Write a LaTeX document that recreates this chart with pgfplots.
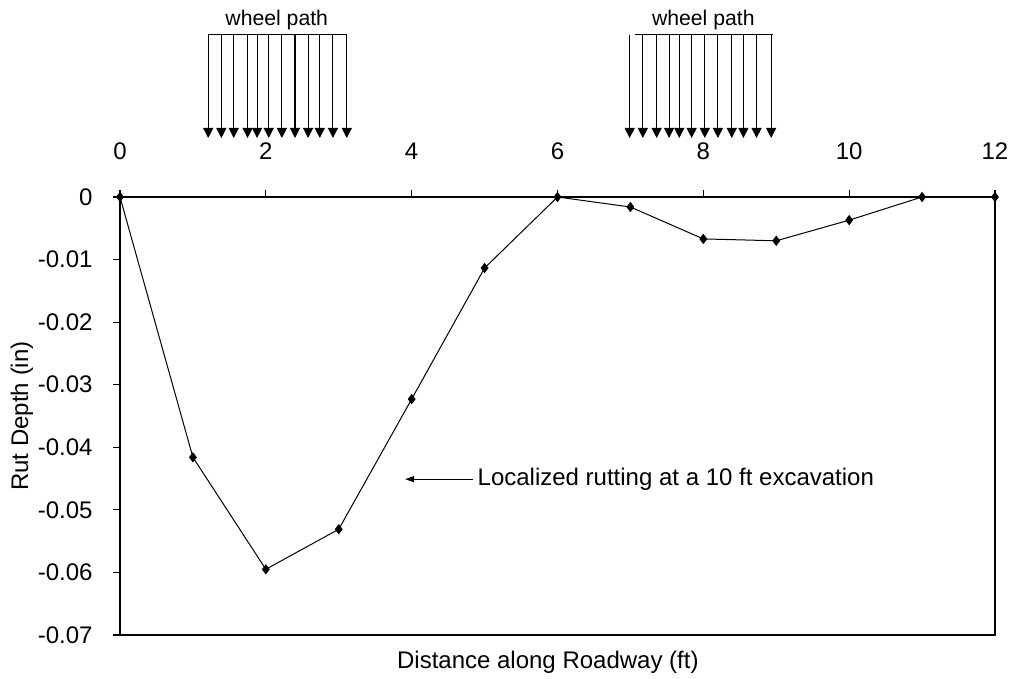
\documentclass[border=0pt]{standalone}
\usepackage{fontspec}
\setmainfont{Liberation Sans}
\usepackage{pgfplots}
\pgfplotsset{compat=1.18}
\usetikzlibrary{arrows.meta}
\begin{document}
\begin{tikzpicture}
\begin{axis}[
  at={(0,0)}, anchor=south west,
  scale only axis, width=437.5pt, height=219pt,
  xmin=0, xmax=12, ymin=-0.07, ymax=0,
  clip=false,
  axis line style={line width=0.6pt},
  tick style={line width=0.6pt, black},
  tick align=outside,
  major tick length=3.5pt,
  xtick={0,2,4,6,8,10,12},
  xtick pos=upper, xticklabel pos=upper,
  ytick={-0.07,-0.06,-0.05,-0.04,-0.03,-0.02,-0.01,0},
  yticklabels={-0.07,-0.06,-0.05,-0.04,-0.03,-0.02,-0.01,0},
  scaled y ticks=false,
  ytick pos=left,
  /pgf/number format/assume math mode=true,
  tick label style={font=\fontsize{12}{14}\selectfont, inner sep=0pt},
  xticklabel style={anchor=center, yshift=19.5pt},
  yticklabel style={anchor=east, xshift=-10pt},
  xlabel={Distance along Roadway (ft)},
  ylabel={Rut Depth (in)},
  label style={font=\fontsize{12}{14}\selectfont, inner sep=0pt},
  xlabel style={at={(axis description cs:0.489,-0.0616)}, anchor=center},
  ylabel style={at={(axis description cs:-0.112,0.5)}, anchor=center},
]
\addplot[black, line width=0.5pt, mark=diamond*, mark size=2.2pt, mark options={solid, fill=black}]
 coordinates {
 (0,0) (1,-0.0416) (2,-0.0595) (3,-0.0531) (4,-0.0323) (5,-0.01135)
 (6,0) (7,-0.0016) (8,-0.0067) (9,-0.0070) (10,-0.0037) (11,0) (12,0)
 };
% wheel path annotations
\pgfplotsinvokeforeach{1.21,1.39,1.56,1.75,1.88,2.04,2.22,2.40,2.58,2.74,2.92,3.11,
                 6.99,7.17,7.36,7.53,7.67,7.84,8.02,8.20,8.39,8.55,8.73,8.93}{
  \draw[line width=0.55pt, -{Triangle[width=5pt,length=5pt]}] (axis cs:#1,0.0259) -- (axis cs:#1,0.00943);
}
\draw[line width=0.55pt] (axis cs:1.21,0.0259) -- (axis cs:3.11,0.0259);
\draw[line width=0.55pt] (axis cs:7.06,0.0259) -- (axis cs:8.96,0.0259);
\node[font=\fontsize{10.6}{12}\selectfont, inner sep=0pt, anchor=center] at (axis cs:2.15,0.0283) {wheel path};
\node[font=\fontsize{10.6}{12}\selectfont, inner sep=0pt, anchor=center] at (axis cs:8.0,0.0283) {wheel path};
% localized rutting annotation
\draw[line width=0.55pt, -{Triangle[width=3pt,length=4.5pt]}] (axis cs:4.84,-0.0451) -- (axis cs:3.91,-0.0451);
\node[font=\fontsize{12}{14}\selectfont, inner sep=0pt, anchor=west] at (axis cs:4.90,-0.0451) {Localized rutting at a 10 ft excavation};
\end{axis}
\pgfresetboundingbox
\useasboundingbox (-60pt,-22pt) rectangle (447pt,317.5pt);
\end{tikzpicture}
\end{document}
